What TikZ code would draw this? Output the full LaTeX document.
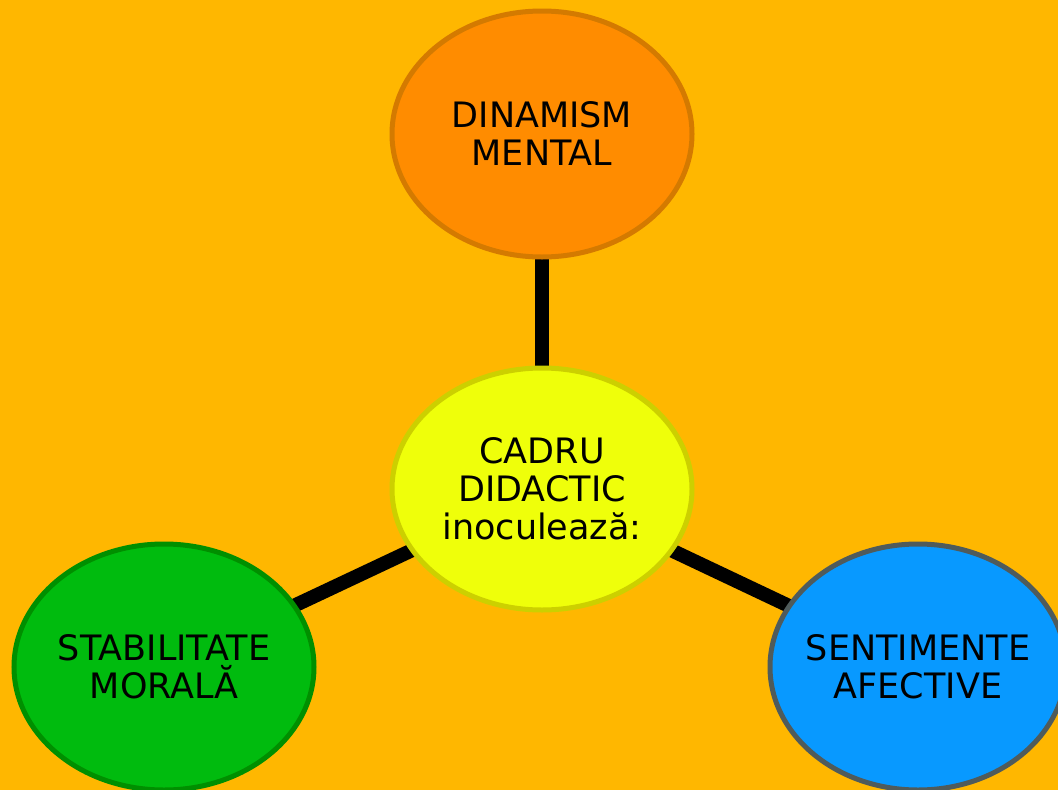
\documentclass[tikz,border=0pt]{standalone}
\usepackage{fontspec}
\setmainfont{DejaVu Sans}
\usetikzlibrary{shapes.geometric,backgrounds}
\definecolor{bgcol}{HTML}{FFB700}
\definecolor{orangefill}{HTML}{FF8C00}
\definecolor{orangeline}{HTML}{D47A00}
\definecolor{yellowfill}{HTML}{EFFF0A}
\definecolor{yellowline}{HTML}{CCD000}
\definecolor{greenfill}{HTML}{00BB0E}
\definecolor{greenline}{HTML}{008F00}
\definecolor{bluefill}{HTML}{0899FF}
\definecolor{blueline}{HTML}{4F5B5B}
\tikzset{
  bubble/.style={ellipse,line width=5pt,inner xsep=-50pt,inner ysep=0pt,minimum width=300pt,
    minimum height=246pt,align=center,font=\fontsize{35}{38}\selectfont},
  link/.style={line width=14pt,black}
}
\begin{document}
\begin{tikzpicture}[x=1pt,y=-1pt]
    \useasboundingbox (0,0) rectangle (1058,790);
    \node[bubble,fill=orangefill,draw=orangeline] (dinamism) at (542,134) {DINAMISM\\MENTAL};
    \node[bubble,fill=yellowfill,draw=yellowline,minimum height=242pt] (cadru) at (542,489) {CADRU\\DIDACTIC\\inoculează:};
    \node[bubble,fill=greenfill,draw=greenline] (stabilitate) at (164,667) {STABILITATE\\MORALĂ};
    \node[bubble,fill=bluefill,draw=blueline,minimum width=296pt] (sentimente) at (918,667) {SENTIMENTE\\AFECTIVE};
    \begin{scope}[on background layer]
        \fill[bgcol] (0,0) rectangle (1058,790);
        \draw[link] (cadru.center) -- (dinamism.center);
        \draw[link] (cadru.center) -- (stabilitate.center);
        \draw[link] (cadru.center) -- (sentimente.center);
    \end{scope}
\end{tikzpicture}
\end{document}
